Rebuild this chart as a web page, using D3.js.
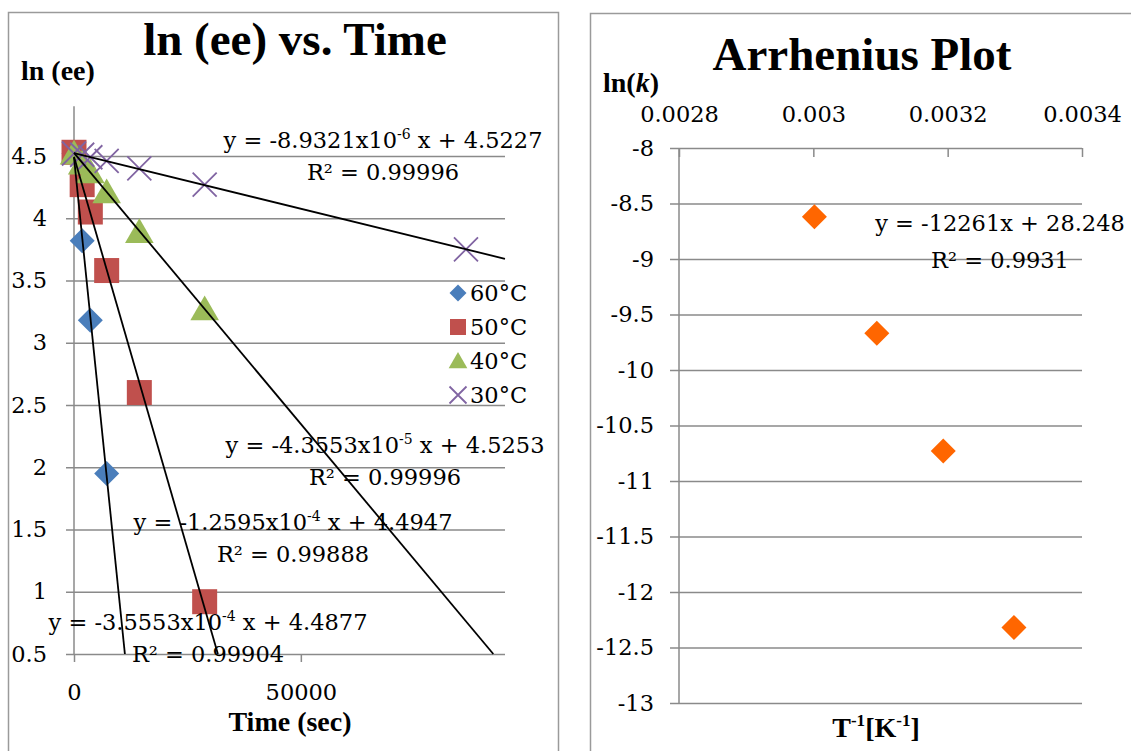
<!DOCTYPE html>
<html>
<head>
<meta charset="utf-8">
<script src="https://cdn.jsdelivr.net/npm/d3@7"></script>
<style>
  body { margin: 0; background: #fff; }
  svg { display: block; }
  .num { font-family: "DejaVu Serif", serif; font-size: 22.5px; fill: #000; }
  .bold { font-family: "Liberation Serif", "Times New Roman", serif; font-weight: bold; fill: #000; }
</style>
</head>
<body>
<div id="chart"></div>
<script>
// ---- left chart data: ln(ee) vs time ----
const timeSec = [0, 1800, 3600, 7200, 14400, 28800, 86400]
const ln60 = [4.52, 3.82, 3.18, 1.95]
const ln50 = [4.53, 4.27, 4.05, 3.58, 2.60, 0.92]
const ln40 = [4.52, 4.44, 4.37, 4.21, 3.89, 3.27]
const ln30 = [4.52, 4.51, 4.49, 4.46, 4.40, 4.27, 3.75]
const seriesLabels = ['60°C', '50°C', '40°C', '30°C']
const seriesColors = ['#4a7ebb', '#c0504d', '#9bbb59', '#8064a2']
// trendline fits (slope, intercept) as printed on the chart
const fitSlope = [-3.5553e-4, -1.2595e-4, -4.3553e-5, -8.9321e-6]
const fitIntercept = [4.4877, 4.4947, 4.5253, 4.5227]
const fitMantissa = ['-3.5553', '-1.2595', '-4.3553', '-8.9321']
const fitExp = ['-4', '-4', '-5', '-6']
const fitR2 = ['0.99904', '0.99888', '0.99996', '0.99996']
const timeTicks = [0, 50000]
const lnTicks = [0.5, 1, 1.5, 2, 2.5, 3, 3.5, 4, 4.5]

// ---- right chart data: Arrhenius ----
const invT = [0.0030016, 0.0030945, 0.0031934, 0.0032987]
const lnK = [-8.62, -9.67, -10.73, -12.32]
const invTTicks = [0.0028, 0.003, 0.0032, 0.0034]
const lnKTicks = [-8, -8.5, -9, -9.5, -10, -10.5, -11, -11.5, -12, -12.5, -13]

const width = 1131, height = 751
const gridColor = '#8a8a8a'
const numFont = '"DejaVu Serif", serif'

let svg = d3.select('#chart').append('svg')
    .attr('width', width)
    .attr('height', height)

// chart frames
svg.append('rect').attr('x', 8.5).attr('y', 12.5).attr('width', 550).attr('height', 800)
    .attr('fill', '#fff').attr('stroke', '#9a9a9a').attr('stroke-width', 1.5)
svg.append('rect').attr('x', 590.5).attr('y', 13.5).attr('width', 600).attr('height', 800)
    .attr('fill', '#fff').attr('stroke', '#9a9a9a').attr('stroke-width', 1.5)

// marker shapes
const diamond = (s) => `M0,${-s}L${s},0L0,${s}L${-s},0Z`
const square = (s) => `M${-s},${-s}H${s}V${s}H${-s}Z`
const triangle = (s) => `M0,${-s * 1.05}L${s * 1.1},${s * 0.85}L${-s * 1.1},${s * 0.85}Z`
const cross = (s) => `M${-s},${-s}L${s},${s}M${s},${-s}L${-s},${s}`
const shapes = [diamond, square, triangle, cross]

function drawMarker(g, i, x, y, s) {
    const p = g.append('path')
        .attr('d', shapes[i](s))
        .attr('transform', `translate(${x},${y})`)
    if (i === 3) {
        p.attr('fill', 'none').attr('stroke', seriesColors[i]).attr('stroke-width', 1.8)
    } else {
        p.attr('fill', seriesColors[i])
    }
}

// axis tick text -> serif numbers
function styleTicks(sel) {
    sel.attr('font-family', numFont).attr('font-size', 22.5)
    sel.selectAll('.tick text')
        .style('font-family', numFont)
        .style('font-size', '22.5px')
        .attr('fill', '#000')
    sel.selectAll('.tick line').attr('stroke', gridColor).attr('stroke-width', 1.5)
    sel.select('.domain').remove()
}

// ================= left chart =================
function drawLeft() {
    const g = svg.append('g')
    const xScale = d3.scaleLinear().domain([0, 95000]).range([74, 505])
    const yScale = d3.scaleLinear().domain([0.5, 4.9]).range([654, 106.2])

    // y axis with gridlines
    const yAxis = d3.axisLeft(yScale).tickValues(lnTicks).tickSize(8).tickPadding(19)
        .tickFormat(d => String(d))
    const ya = g.append('g').attr('transform', `translate(${xScale(0)},0)`).call(yAxis)
    styleTicks(ya)
    ya.selectAll('.tick line').attr('x1', xScale(95000) - xScale(0))
    g.append('line')
        .attr('x1', xScale(0)).attr('x2', xScale(0))
        .attr('y1', yScale(4.9)).attr('y2', yScale(0.5))
        .attr('stroke', gridColor).attr('stroke-width', 1.5)

    // x axis
    const xAxis = d3.axisBottom(xScale).tickValues(timeTicks).tickSize(8).tickPadding(22)
        .tickFormat(d => String(d))
    const xa = g.append('g').attr('transform', `translate(0,${yScale(0.5)})`).call(xAxis)
    styleTicks(xa)

    // markers
    const allSeries = [ln60, ln50, ln40, ln30]
    allSeries.forEach((vals, i) => {
        const mg = g.append('g')
        vals.forEach((v, j) => {
            drawMarker(mg, i, xScale(timeSec[j]), yScale(v), i === 2 ? 13 : (i === 3 ? 12 : 12.5))
        })
    })

    // trendlines, clipped to plot area
    fitSlope.forEach((m, i) => {
        const b = fitIntercept[i]
        const xEnd = Math.min(95000, (0.5 - b) / m)
        g.append('line')
            .attr('x1', xScale(0)).attr('y1', yScale(b))
            .attr('x2', xScale(xEnd)).attr('y2', yScale(b + m * xEnd))
            .attr('stroke', '#000').attr('stroke-width', 1.8)
    })

    // trendline labels
    const labelPos = [[208, 630], [293, 530], [385, 453], [383, 148]]
    labelPos.forEach((p, i) => {
        const t = g.append('text').attr('class', 'num')
            .attr('x', p[0]).attr('y', p[1]).attr('text-anchor', 'middle')
        t.append('tspan').text(`y = ${fitMantissa[i]}x10`)
        t.append('tspan').attr('dy', -9).attr('font-size', 14).text(fitExp[i])
        t.append('tspan').attr('dy', 9).text(` x + ${fitIntercept[i]}`)
        g.append('text').attr('class', 'num')
            .attr('x', p[0]).attr('y', p[1] + 32).attr('text-anchor', 'middle')
            .text(`R² = ${fitR2[i]}`)
    })

    // legend
    seriesLabels.forEach((lab, i) => {
        const ly = 293 + i * 34
        drawMarker(g, i, 458, ly, i === 1 ? 8 : 8.5)
        g.append('text').attr('class', 'num').attr('x', 470).attr('y', ly + 8).text(lab)
    })

    // titles
    g.append('text').attr('class', 'bold').attr('x', 295).attr('y', 55)
        .attr('text-anchor', 'middle').attr('font-size', 47).text('ln (ee) vs. Time')
    g.append('text').attr('class', 'bold').attr('x', 21).attr('y', 80)
        .attr('font-size', 28).text('ln (ee)')
    g.append('text').attr('class', 'bold').attr('x', 290).attr('y', 731)
        .attr('text-anchor', 'middle').attr('font-size', 28).text('Time (sec)')
}

// ================= right chart =================
function drawRight() {
    const g = svg.append('g')
    const xScale = d3.scaleLinear().domain([0.0028, 0.0034]).range([679, 1082])
    const yScale = d3.scaleLinear().domain([-13, -8]).range([703, 148])

    const yAxis = d3.axisLeft(yScale).tickValues(lnKTicks).tickSize(9).tickPadding(16)
        .tickFormat(d => String(d))
    const ya = g.append('g').attr('transform', `translate(${xScale(0.0028)},0)`).call(yAxis)
    styleTicks(ya)
    ya.selectAll('.tick line').attr('x1', xScale(0.0034) - xScale(0.0028))
    g.append('line')
        .attr('x1', xScale(0.0028)).attr('x2', xScale(0.0028))
        .attr('y1', yScale(-8)).attr('y2', yScale(-13))
        .attr('stroke', gridColor).attr('stroke-width', 1.5)

    // top x axis, ticks pointing into the plot
    const xAxis = d3.axisTop(xScale).tickValues(invTTicks).tickSizeInner(-9).tickSizeOuter(0)
        .tickPadding(26).tickFormat(d => String(d))
    const xa = g.append('g').attr('transform', `translate(0,${yScale(-8)})`).call(xAxis)
    styleTicks(xa)

    invT.forEach((x, j) => {
        g.append('path').attr('d', diamond(12.5))
            .attr('transform', `translate(${xScale(x)},${yScale(lnK[j])})`)
            .attr('fill', '#ff6600')
    })

    g.append('text').attr('class', 'num').attr('x', 1000).attr('y', 231)
        .attr('text-anchor', 'middle').text('y = -12261x + 28.248')
    g.append('text').attr('class', 'num').attr('x', 1000).attr('y', 268)
        .attr('text-anchor', 'middle').text('R² = 0.9931')

    g.append('text').attr('class', 'bold').attr('x', 862).attr('y', 70)
        .attr('text-anchor', 'middle').attr('font-size', 47).text('Arrhenius Plot')
    const lk = g.append('text').attr('class', 'bold').attr('x', 603).attr('y', 92).attr('font-size', 28)
    lk.append('tspan').text('ln(')
    lk.append('tspan').attr('font-style', 'italic').text('k')
    lk.append('tspan').text(')')

    const xt = g.append('text').attr('class', 'bold').attr('x', 876).attr('y', 737)
        .attr('text-anchor', 'middle').attr('font-size', 28)
    xt.append('tspan').text('T')
    xt.append('tspan').attr('dy', -11).attr('font-size', 17).text('-1')
    xt.append('tspan').attr('dy', 11).text('[K')
    xt.append('tspan').attr('dy', -11).attr('font-size', 17).text('-1')
    xt.append('tspan').attr('dy', 11).text(']')
}

drawLeft()
drawRight()
</script>
</body>
</html>
